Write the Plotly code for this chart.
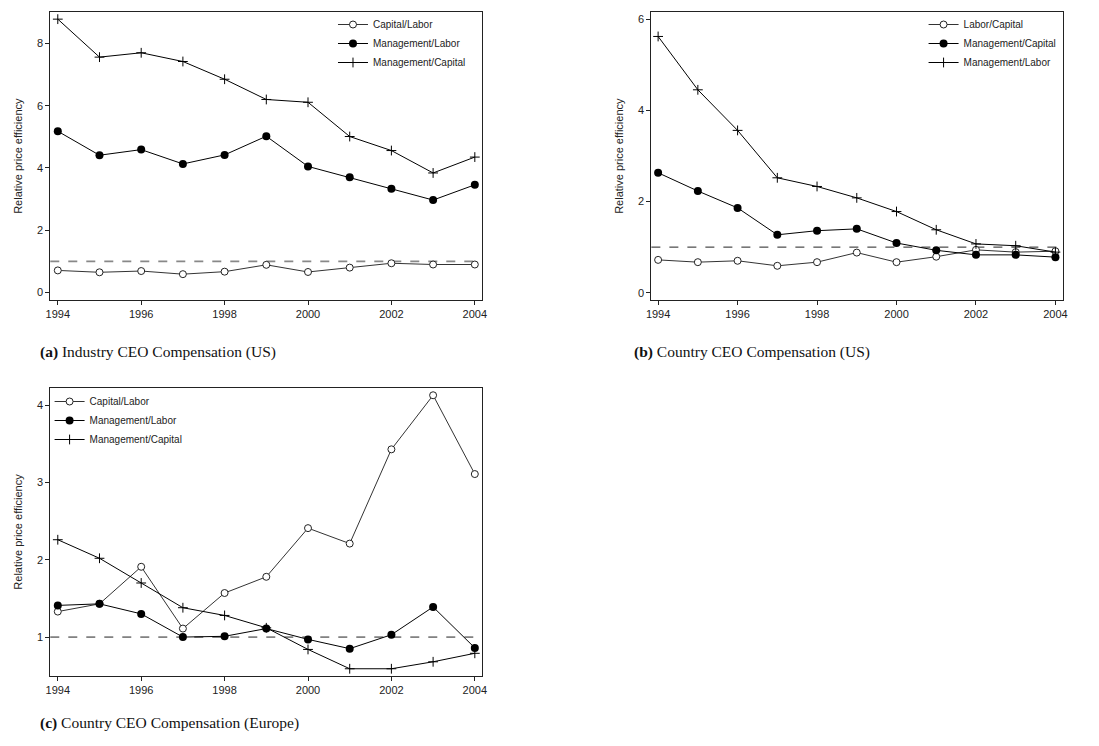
import plotly.graph_objects as go

years = list(range(1994, 2005))

# (a) Industry CEO compensation, US
a_capital_labor = [0.71, 0.65, 0.69, 0.59, 0.67, 0.89, 0.66, 0.80, 0.94, 0.90, 0.90]
a_mgmt_labor = [5.18, 4.41, 4.59, 4.13, 4.42, 5.02, 4.05, 3.70, 3.33, 2.97, 3.46]
a_mgmt_capital = [8.78, 7.56, 7.70, 7.42, 6.85, 6.20, 6.11, 5.01, 4.56, 3.84, 4.35]

# (b) Country CEO compensation, US
b_labor_capital = [0.72, 0.67, 0.70, 0.59, 0.67, 0.88, 0.67, 0.79, 0.94, 0.89, 0.91]
b_mgmt_capital = [2.63, 2.23, 1.86, 1.27, 1.36, 1.40, 1.09, 0.93, 0.83, 0.83, 0.78]
b_mgmt_labor = [5.62, 4.45, 3.56, 2.52, 2.33, 2.08, 1.78, 1.38, 1.07, 1.03, 0.89]

# (c) Country CEO compensation, Europe
c_capital_labor = [1.33, 1.43, 1.91, 1.11, 1.57, 1.78, 2.41, 2.21, 3.43, 4.13, 3.11]
c_mgmt_labor = [1.41, 1.43, 1.30, 1.00, 1.01, 1.11, 0.97, 0.85, 1.03, 1.39, 0.86]
c_mgmt_capital = [2.26, 2.02, 1.70, 1.38, 1.28, 1.12, 0.84, 0.59, 0.59, 0.68, 0.79]

x_ticks = [1994, 1996, 1998, 2000, 2002, 2004]
a_y_ticks = [0, 2, 4, 6, 8]
b_y_ticks = [0, 2, 4, 6]
c_y_ticks = [1, 2, 3, 4]

captions = [
    ("<b>(a)</b> Industry CEO Compensation (US)", 33, 352),
    ("<b>(b)</b> Country CEO Compensation (US)", 633, 352),
    ("<b>(c)</b> Country CEO Compensation (Europe)", 33, 723),
]

W, H = 1099, 746
SANS = "Liberation Sans, Arial, sans-serif"
SERIF = "Liberation Serif, Times New Roman, serif"

fig = go.Figure()


def series(x, y, kind, name, xa, ya, legend):
    if kind == "open":
        marker = dict(symbol="circle", size=7, color="white", line=dict(color="#222", width=1))
        line = dict(color="#333", width=1)
    elif kind == "filled":
        marker = dict(symbol="circle", size=8, color="black", line=dict(color="black", width=0))
        line = dict(color="black", width=1)
    else:
        marker = dict(symbol="cross-thin", size=7, line=dict(color="black", width=1))
        line = dict(color="black", width=1)
    fig.add_trace(go.Scatter(
        x=x, y=y, mode="lines+markers", name=name, marker=marker, line=line,
        xaxis=xa, yaxis=ya, legend=legend, cliponaxis=False,
    ))


series(years, a_capital_labor, "open", "Capital/Labor", "x", "y", "legend")
series(years, a_mgmt_labor, "filled", "Management/Labor", "x", "y", "legend")
series(years, a_mgmt_capital, "plus", "Management/Capital", "x", "y", "legend")

series(years, b_labor_capital, "open", "Labor/Capital", "x2", "y2", "legend2")
series(years, b_mgmt_capital, "filled", "Management/Capital", "x2", "y2", "legend2")
series(years, b_mgmt_labor, "plus", "Management/Labor", "x2", "y2", "legend2")

series(years, c_capital_labor, "open", "Capital/Labor", "x3", "y3", "legend3")
series(years, c_mgmt_labor, "filled", "Management/Labor", "x3", "y3", "legend3")
series(years, c_mgmt_capital, "plus", "Management/Capital", "x3", "y3", "legend3")

# reference line at relative efficiency = 1
for xr, yr, color, width in [("x", "y", "#888888", 1.6), ("x2", "y2", "#222222", 1),
                             ("x3", "y3", "#222222", 1)]:
    fig.add_shape(type="line", xref=f"{xr} domain", yref=yr, x0=0, x1=1, y0=1, y1=1,
                  line=dict(color=color, width=width, dash="dash"), layer="below")


def px_dom_x(l, r):
    return [l / W, r / W]


def px_dom_y(t, b):
    return [1 - b / H, 1 - t / H]


common_x = dict(
    tickmode="array", tickvals=x_ticks, ticks="outside", ticklen=4, tickwidth=1,
    tickcolor="#222", showline=True, linecolor="#222", linewidth=1, mirror=True,
    showgrid=False, zeroline=False, tickfont=dict(family=SANS, size=11, color="#222"),
)
common_y = dict(
    ticks="outside", ticklen=4, tickwidth=1, tickcolor="#222", showline=True,
    linecolor="#222", linewidth=1, mirror=True, showgrid=False, zeroline=False,
    tickfont=dict(family=SANS, size=11, color="#222"),
    title=dict(text="Relative price efficiency", font=dict(family=SANS, size=11, color="#222"),
               standoff=12),
)

legend_style = dict(font=dict(family=SANS, size=10, color="#222"), bgcolor="rgba(0,0,0,0)",
                    borderwidth=0, xanchor="left", yanchor="top", tracegroupgap=0,
                    itemwidth=30)

fig.update_layout(
    width=W, height=H,
    margin=dict(l=0, r=0, t=0, b=0),
    paper_bgcolor="white", plot_bgcolor="white",
    showlegend=True,
    xaxis=dict(common_x, domain=px_dom_x(45.7, 481.7), range=[1993.82, 2004.18], anchor="y"),
    yaxis=dict(common_y, domain=px_dom_y(12.3, 300), range=[-0.24, 9.0],
               tickvals=a_y_ticks, anchor="x"),
    xaxis2=dict(common_x, domain=px_dom_x(652.3, 1067.3), range=[1993.83, 2004.18], anchor="y2"),
    yaxis2=dict(common_y, domain=px_dom_y(12.3, 300), range=[-0.16, 6.15],
                tickvals=b_y_ticks, anchor="x2"),
    xaxis3=dict(common_x, domain=px_dom_x(45.7, 481.7), range=[1993.82, 2004.18], anchor="y3"),
    yaxis3=dict(common_y, domain=px_dom_y(388.3, 675.7), range=[0.50, 4.22],
                tickvals=c_y_ticks, anchor="x3"),
    legend=dict(legend_style, x=331 / W, y=1 - 10 / H),
    legend2=dict(legend_style, x=927 / W, y=1 - 10 / H),
    legend3=dict(legend_style, x=45 / W, y=1 - 387 / H),
)

for text, xp, yp in captions:
    fig.add_annotation(text=text, xref="paper", yref="paper", x=xp / W, y=1 - yp / H,
                       xanchor="left", yanchor="middle", showarrow=False,
                       font=dict(family=SERIF, size=15.5, color="#111"))

fig.write_html("out.html")
